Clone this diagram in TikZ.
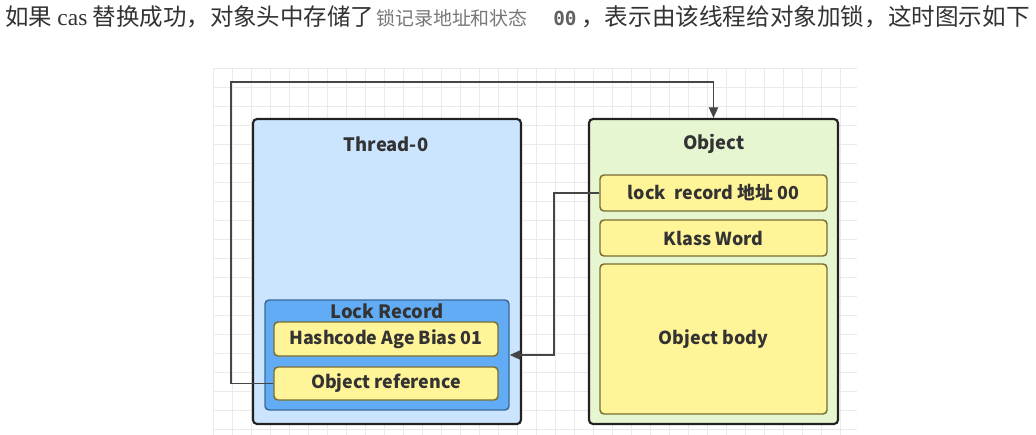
\documentclass[tikz,border=0pt]{standalone}
\usepackage{fontspec}
\setmainfont{Liberation Serif}
\newfontfamily\cjk{Noto Sans CJK SC}
\newfontfamily\monof{DejaVu Sans Mono}
\usetikzlibrary{arrows.meta}
\definecolor{threadfill}{RGB}{204,229,255}
\definecolor{objfill}{RGB}{230,246,208}
\definecolor{lrfill}{RGB}{98,172,245}
\definecolor{lrdraw}{RGB}{60,105,150}
\definecolor{yfill}{RGB}{255,244,152}
\definecolor{ydraw}{RGB}{120,110,50}
\definecolor{boxdraw}{RGB}{34,34,34}
\definecolor{txt}{RGB}{51,51,51}
\definecolor{graytxt}{RGB}{120,120,120}
\definecolor{gridc}{RGB}{234,234,234}
\definecolor{connc}{RGB}{70,70,70}
\tikzset{
  box/.style={draw=boxdraw, line width=1.6pt, rounded corners=3pt, inner sep=0pt, anchor=center},
  ybox/.style={draw=ydraw, fill=yfill, line width=1.1pt, rounded corners=3pt, inner sep=0pt, anchor=center,
     font=\cjk\bfseries\fontsize{13.4}{15}\selectfont, text=txt},
  title/.style={font=\cjk\bfseries\fontsize{13.8}{15}\selectfont, text=txt, inner sep=0pt},
  conn/.style={draw=connc, line width=1.1pt},
  hdr/.style={anchor=base west, inner sep=0pt, text=txt}
}
\begin{document}
\begin{tikzpicture}[x=0.75pt,y=-0.75pt]
\useasboundingbox[fill=white] (0,0) rectangle (1036,435);
% grid
\foreach \gx in {213,232,...,857} \draw[gridc, line width=0.5pt] (\gx,68) -- (\gx,435);
\foreach \gy in {68,87,...,435} \draw[gridc, line width=0.5pt] (213,\gy) -- (857,\gy);
% header
\node[hdr, font=\cjk\fontsize{17.6}{20}\selectfont] (h1) at (5,26) {如果 {\rmfamily cas} 替换成功，对象头中存储了};
\node[hdr, font=\cjk\fontsize{14.2}{16}\selectfont, text=graytxt] (h2) at (376,26) {锁记录地址和状态};
\node[hdr, font=\monof\bfseries\fontsize{14.5}{16}\selectfont, text=graytxt!80!black] (h3) at (553,26) {00};
\node[hdr, font=\cjk\fontsize{17.7}{20}\selectfont] (h4) at (581,26) {，表示由该线程给对象加锁，这时图示如下};
% thread box
\node[box, fill=threadfill, minimum width=268*0.75pt, minimum height=305*0.75pt] (thread) at (387,271.5) {};
\node[title] (threadt) at (386,144) {Thread-0};
\node[draw=lrdraw, fill=lrfill, line width=1.1pt, rounded corners=3pt, inner sep=0pt,
      minimum width=244*0.75pt, minimum height=110*0.75pt] (lockrec) at (387,355) {};
\node[title] (lockrect) at (387,311) {Lock Record};
\node[ybox, minimum width=224*0.75pt, minimum height=34*0.75pt] (hash) at (386,339) {Hashcode Age Bias 01};
\node[ybox, minimum width=224*0.75pt, minimum height=33*0.75pt] (objref) at (386,383.5) {Object reference};
% object box
\node[box, fill=objfill, minimum width=249*0.75pt, minimum height=305*0.75pt] (object) at (713.5,271.5) {};
\node[title] (objectt) at (714,144) {Object};
\node[ybox, minimum width=227*0.75pt, minimum height=36*0.75pt] (lrfield) at (713.5,193) {lock\ \ record 地址 00};
\node[ybox, minimum width=227*0.75pt, minimum height=36*0.75pt] (klass) at (713.5,238) {Klass Word};
\node[ybox, minimum width=227*0.75pt, minimum height=150*0.75pt] (body) at (713.5,339) {Object body};
% connectors
\coordinate (c1) at (231,82);
\coordinate (c2) at (554,193);
\draw[conn, -{Triangle[length=8pt,width=7pt]}] (objref.west) -| (c1) -| (object.north);
\draw[conn, -{Triangle[length=8pt,width=7pt]}] (lrfield.west) -- (c2) |- (lockrec.east);
\end{tikzpicture}
\end{document}
